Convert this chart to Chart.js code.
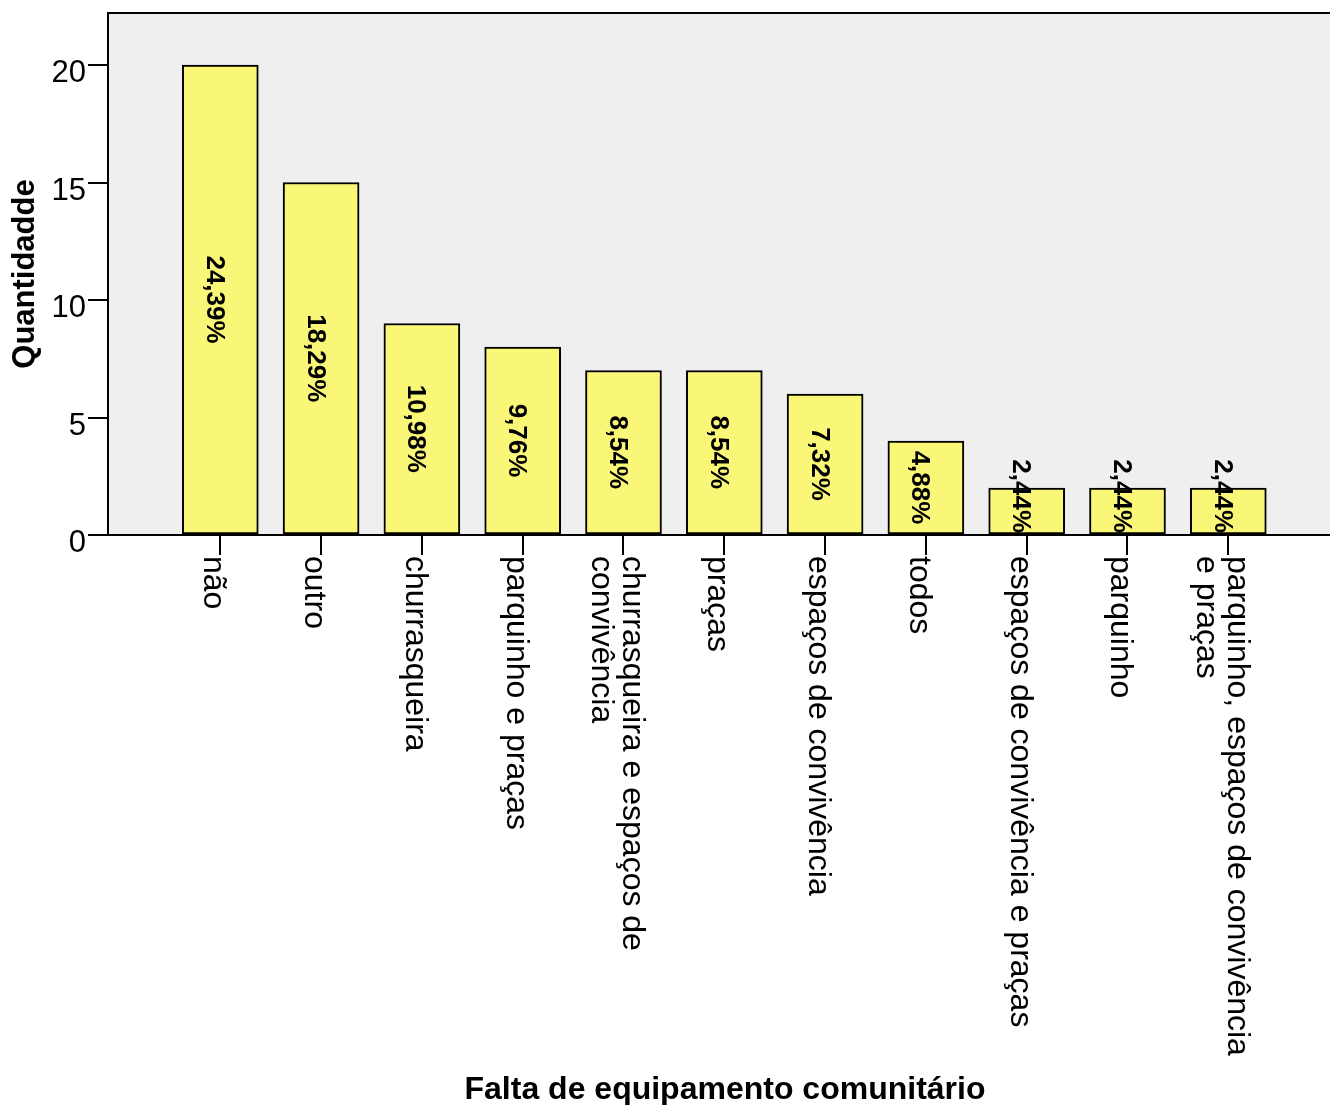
<!DOCTYPE html>
<html><head><meta charset="utf-8">
<script src="https://cdn.jsdelivr.net/npm/chart.js@4/dist/chart.umd.min.js"></script>
<style>html,body{margin:0;padding:0;background:#fff}#wrap{width:1330px;height:1105px;position:relative}</style>
</head><body><div id="wrap"><canvas id="c" width="1330" height="1105"></canvas></div>
<script>
const categories = [["não"],["outro"],["churrasqueira"],["parquinho e praças"],["churrasqueira e espaços de","convivência"],["praças"],["espaços de convivência"],["todos"],["espaços de convivência e praças"],["parquinho"],["parquinho, espaços de convivência","e praças"]];
const counts = [20,15,9,8,7,7,6,4,2,2,2];
const percentLabels = ["24,39%","18,29%","10,98%","9,76%","8,54%","8,54%","7,32%","4,88%","2,44%","2,44%","2,44%"];
const yTicks = [0,5,10,15,20];
const yTickLabels = ["0","5","10","15","20"];
const yTitle = "Quantidadde";
const xTitle = "Falta de equipamento comunitário";

const FONT = "'Liberation Sans', Arial, sans-serif";

const decor = {
  id: 'decor',
  beforeDraw(chart) {
    const {ctx, chartArea: a} = chart;
    ctx.save();
    ctx.fillStyle = '#efefef';
    ctx.fillRect(a.left, a.top, a.right - a.left, a.bottom - a.top);
    ctx.strokeStyle = '#000';
    ctx.lineWidth = 2;
    ctx.beginPath();
    ctx.moveTo(a.left, a.top);
    ctx.lineTo(a.right, a.top);
    ctx.stroke();
    ctx.restore();
  },
  afterDraw(chart) {
    const {ctx} = chart;
    const xs = chart.scales.x, ys = chart.scales.y;
    ctx.save();
    ctx.fillStyle = '#000';
    const meta = chart.getDatasetMeta(0);
    ctx.font = "bold 26px " + FONT;
    meta.data.forEach((bar, i) => {
      const txt = percentLabels[i];
      const w = ctx.measureText(txt).width;
      const mid = (bar.y + bar.base) / 2;
      const cy = Math.min(mid, bar.base - w / 2 - 1);
      ctx.save();
      ctx.translate(bar.x, cy);
      ctx.rotate(Math.PI / 2);
      ctx.textAlign = 'center';
      ctx.textBaseline = 'alphabetic';
      ctx.fillText(txt, 0, 13.5);
      ctx.restore();
    });
    ctx.font = "32px " + FONT;
    const lh = 31;
    categories.forEach((lines, i) => {
      const tx = xs.getPixelForValue(i);
      const n = lines.length;
      ctx.save();
      ctx.translate(tx, 556);
      ctx.rotate(Math.PI / 2);
      ctx.textAlign = 'left';
      ctx.textBaseline = 'alphabetic';
      lines.forEach((ln, j) => {
        ctx.fillText(ln, 0, 16 - (n - 1) / 2 * lh + j * lh);
      });
      ctx.restore();
    });
    ctx.font = "31px " + FONT;
    ctx.textAlign = 'right';
    ctx.textBaseline = 'alphabetic';
    yTicks.forEach((v, i) => {
      ctx.fillText(yTickLabels[i], 86, ys.getPixelForValue(v) + 17);
    });
    ctx.font = "bold 31px " + FONT;
    ctx.save();
    ctx.translate(34, 274);
    ctx.rotate(-Math.PI / 2);
    ctx.textAlign = 'center';
    ctx.fillText(yTitle, 0, 0);
    ctx.restore();
    ctx.font = "bold 32px " + FONT;
    ctx.textAlign = 'center';
    ctx.fillText(xTitle, 725, 1099);
    ctx.restore();
  }
};

new Chart(document.getElementById('c'), {
  type: 'bar',
  data: {
    datasets: [{
      data: counts.map((v, i) => ({x: i, y: v})),
      backgroundColor: '#faf778',
      borderColor: '#000',
      borderWidth: 2,
      borderSkipped: false,
      barThickness: 76
    }]
  },
  options: {
    responsive: false,
    animation: false,
    devicePixelRatio: 1,
    layout: {padding: {top: 13, left: 0, right: 0, bottom: 0}},
    plugins: {legend: {display: false}, tooltip: {enabled: false}},
    scales: {
      x: {
        type: 'linear',
        offset: false,
        min: -1.114,
        max: 11.009,
        afterBuildTicks: s => { s.ticks = categories.map((_, i) => ({value: i})); },
        afterFit: s => { s.height = 570; },
        ticks: {display: false},
        grid: {display: true, offset: false, drawOnChartArea: false, drawTicks: true, tickLength: 20, color: '#000', lineWidth: 2},
        border: {display: true, color: '#000', width: 2}
      },
      y: {
        min: 0,
        max: 22.215,
        afterBuildTicks: s => { s.ticks = yTicks.map(v => ({value: v})); },
        afterFit: s => { s.width = 108; },
        ticks: {display: false},
        grid: {display: true, drawOnChartArea: false, drawTicks: true, tickLength: 20, color: '#000', lineWidth: 2},
        border: {display: true, color: '#000', width: 2}
      }
    }
  },
  plugins: [decor]
});
</script>
</body></html>
